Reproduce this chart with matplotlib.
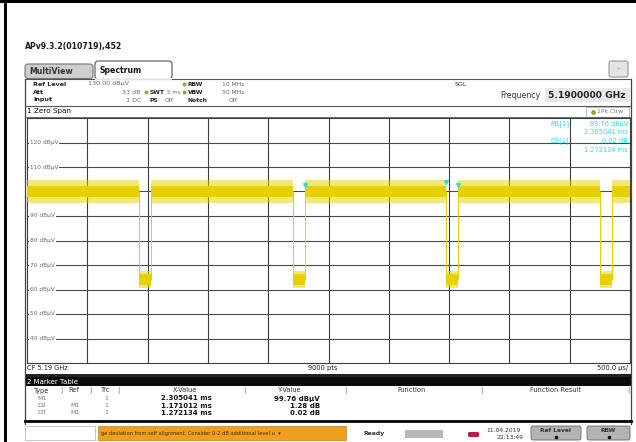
import matplotlib
matplotlib.use("Agg")
import matplotlib.pyplot as plt
from matplotlib.patches import Rectangle, FancyBboxPatch
from matplotlib.transforms import offset_copy

# sweep / display settings
sweep_ms = 5.0
ref_level = 130
bottom_level = 30
level_labels = [120, 110, 100, 90, 80, 70, 60, 50, 40]

# burst gaps in ms (carrier off between start and end)
gap_start = [0.930, 2.204, 3.476, 4.748]
gap_end = [1.032, 2.305, 3.577, 4.852]
carrier_level = 100.0
carrier_spread = [2.2, 4.5]   # dense band, peak band (dB)
floor_level = 64.0
floor_spread = [2.2, 3.5]

# marker table
marker_type = ["M1", "D2", "D3"]
marker_ref = ["", "M1", "M1"]
marker_trc = ["1", "1", "1"]
marker_x = [2.305041, 1.171012, 1.272134]   # ms, deltas relative to M1
marker_y = [99.76, 1.28, 0.02]
marker_unit = ["dBµV", "dB", "dB"]

YELLOW = "#e6d000"
CYAN = "#22e0f0"
GRID = "#3c3c3c"
LABEL = "#6a6a6a"

W, H = 636, 442
fig = plt.figure(figsize=(W / 100, H / 100), dpi=100)
bg = fig.add_axes([0, 0, 1, 1])
bg.set_xlim(0, W)
bg.set_ylim(H, 0)
bg.axis("off")
bg.set_zorder(2)


def txt(x, y, s, size=4.6, color="#222222", weight="normal", ha="left", **kw):
    bg.text(x, y, s, fontsize=size, color=color, fontweight=weight, ha=ha,
            va="center", **kw)


def box(x, y, w, h, fc, ec="none", lw=0.8, round_=0, z=1):
    if round_:
        p = FancyBboxPatch((x, y), w, h, boxstyle=f"round,pad=0,rounding_size={round_}",
                           fc=fc, ec=ec, lw=lw, zorder=z)
    else:
        p = Rectangle((x, y), w, h, fc=fc, ec=ec, lw=lw, zorder=z)
    bg.add_patch(p)


# outer frame
box(0, 0, W, 3.3, "black", z=5)
box(3.5, 0, 3, H, "black", z=5)

txt(25, 46, "APv9.3.2(010719),452", size=5.6, weight="bold", color="#1a1a1a")

# tabs
bg.plot([25, 630], [78.5, 78.5], color="#555555", lw=0.8)
box(25, 64, 68, 14.5, "#cfcfcf", ec="#777777", round_=3)
txt(29, 71.5, "MultiView", size=5.6, weight="bold", color="#333333")
box(95, 61, 77, 18, "white", ec="#555555", round_=3, z=2)
bg.plot([96, 171], [78.5, 78.5], color="white", lw=1.2, zorder=3)
txt(100, 70.5, "Spectrum", size=5.6, weight="bold", color="#111111", zorder=4)
box(609, 61, 19, 16, "#e4e4e4", ec="#999999", round_=2)
txt(618.5, 69, "»", size=4, color="#888888", ha="center")

# window frame
bg.plot([25, 25], [78.5, 424], color="#444444", lw=0.9)
bg.plot([630.5, 630.5], [78.5, 424], color="#444444", lw=0.9)

# settings block
txt(33, 84, "Ref Level", weight="bold")
txt(88, 84, "130.00 dBµV", color=LABEL)
txt(33, 92, "Att", weight="bold")
txt(141, 92, "33 dB", color=LABEL, ha="right")
txt(33, 100, "Input", weight="bold")
txt(141, 100, "1 DC", color=LABEL, ha="right")
for yy in (84, 92):
    bg.plot(184, yy, "o", ms=1.8, color="#9aa040")
bg.plot(146, 92, "o", ms=1.8, color="#9aa040")
txt(150, 92, "SWT", size=4.3, weight="bold")
txt(167, 92, "5 ms", size=4.1, color=LABEL)
txt(150, 100, "PS", size=4.3, weight="bold")
txt(165, 100, "Off", size=4.3, color=LABEL)
txt(188, 84, "RBW", size=4.3, weight="bold")
txt(222, 84, "10 MHz", size=4.3, color=LABEL)
txt(188, 92, "VBW", size=4.3, weight="bold")
txt(222, 92, "50 MHz", size=4.3, color=LABEL)
txt(188, 100, "Notch", size=4.3, weight="bold")
txt(229, 100, "Off", size=4.3, color=LABEL)
txt(455, 84, "SGL", size=4.6, color="#333333")
txt(500, 95, "Frequency", size=5.6, color="#333333")
box(545, 88, 85, 14, "#e9e9e9")
txt(548, 95, "5.1900000 GHz", size=6.6, weight="bold", color="#222222")

# diagram header
bg.plot([25, 630], [105.5, 105.5], color="#555555", lw=0.8)
txt(27, 111, "1 Zero Span", size=5.2, color="#111111")
bg.plot([25, 630], [116.5, 116.5], color="#555555", lw=0.6)
box(586, 106.5, 43, 10, "white", ec="#aaaaaa", lw=0.5)
bg.plot(593, 111.5, "o", ms=2.6, color="#b8b000", mec="#555500", mew=0.4)
txt(597, 111.5, "1Pk Clrw", size=4.3, color="#777777")

# diagram
x0, y0, x1, y1 = 27, 118, 630, 363
ax = fig.add_axes([x0 / W, 1 - y1 / H, (x1 - x0) / W, (y1 - y0) / H])
ax.set_zorder(1)
ax.set_xlim(0, sweep_ms)
ax.set_ylim(bottom_level, ref_level)
ax.set_xticks([])
ax.set_yticks([])
for s in ax.spines.values():
    s.set_color(GRID)
    s.set_linewidth(0.8)
for i in range(1, 10):
    ax.axvline(sweep_ms * i / 10, color=GRID, lw=0.8, zorder=1)
for lv in range(bottom_level + 10, ref_level, 10):
    ax.axhline(lv, color="#4a4a4a", lw=0.8, zorder=1)
for lv in level_labels:
    ax.text(0.025, lv, f"{lv} dBµV", fontsize=4.2, color=LABEL, va="center",
            zorder=2, bbox=dict(fc="white", ec="none", pad=0.6))

# trace: carrier bursts between the gaps, noise floor inside the gaps
starts = [0.0] + gap_end
ends = gap_start + [sweep_ms]
for a, b in zip(starts, ends):
    ax.fill_between([a, b], carrier_level - carrier_spread[1],
                    carrier_level + carrier_spread[1], color=YELLOW, alpha=0.5,
                    lw=0, zorder=3)
    ax.fill_between([a, b], carrier_level - carrier_spread[0],
                    carrier_level + carrier_spread[0], color=YELLOW, lw=0, zorder=4)
for a, b in zip(gap_start, gap_end):
    ax.fill_between([a, b], floor_level - floor_spread[1],
                    floor_level + floor_spread[1], color=YELLOW, alpha=0.5,
                    lw=0, zorder=3)
    ax.fill_between([a, b], floor_level - floor_spread[0],
                    floor_level + floor_spread[0], color=YELLOW, lw=0, zorder=4)
    ax.vlines([a, b], floor_level, carrier_level, color=YELLOW, lw=0.7, zorder=4)

# markers on the trace
m1_t = marker_x[0]
pos_t = [m1_t, m1_t + marker_x[1], m1_t + marker_x[2]]
pos_y = [marker_y[0], marker_y[0] + marker_y[1], marker_y[0] + marker_y[2]]
up = offset_copy(ax.transData, fig=fig, x=0, y=5, units="points")
ax.plot(pos_t, pos_y, "v", ms=2.8, color=CYAN, transform=up, zorder=6, ls="none")

# marker info in the diagram corner
info = [("M1[1]", f"{marker_y[0]:.2f} dBµV"), ("", f"{marker_x[0]:.6f} ms"),
        ("D3[1]", f"{marker_y[2]:.2f} dB"), ("", f"{marker_x[2]:.6f} ms")]
for i, (name, val) in enumerate(info):
    yy = 124 + i * 8.5
    if name:
        txt(550, yy, name, size=4.8, color=CYAN, zorder=6)
    txt(628, yy, val, size=4.8, color=CYAN, ha="right", zorder=6)

# diagram footer
txt(27, 368, "CF 5.19 GHz", size=4.8, color="#222222")
txt(323, 368, "9000 pts", size=4.8, color="#222222", ha="center")
txt(628, 368, "500.0 µs/", size=4.8, color="#222222", ha="right")

# marker table
box(25, 373.5, 606, 4, "#222222")
box(25, 377, 606, 9, "#0a0a0a")
txt(27, 381.5, "2 Marker Table", size=5, color="white")
bg.plot([25, 631], [420.5, 420.5], color="black", lw=2)
heads = [(42, "Type"), (74, "Ref"), (106, "Trc"), (185, "X-Value"),
         (290, "Y-Value"), (412, "Function"), (555, "Function Result")]
for xx, h in heads:
    txt(xx, 390.5, h, size=4.8, color="#333333", ha="center")
for xx in (61, 90, 118, 244, 345, 481, 628):
    txt(xx, 390.5, "|", size=4.8, color="#555555", ha="center")
for i in range(3):
    yy = 398.5 + i * 7.2
    txt(37, yy, marker_type[i], size=4.5, color="#777777")
    txt(70, yy, marker_ref[i], size=4.5, color="#777777")
    txt(106, yy, marker_trc[i], size=4.5, color="#777777", ha="center")
    txt(212, yy, f"{marker_x[i]:.6f} ms", size=5.0, weight="bold", color="#111111",
        ha="right")
    txt(320, yy, f"{marker_y[i]:.2f} {marker_unit[i]}", size=5.0, weight="bold",
        color="#111111", ha="right")

# status bar
box(25, 426, 70, 14, "white", ec="#bbbbbb", lw=0.6)
box(98, 426, 248, 14, "#f0a020", ec="#c08020", lw=0.5)
txt(101, 433, "ge deviation from self alignment. Consider 0-2 dB additional level u  \u25be",
    size=3.7, color="#3a2a00")
txt(363, 434, "Ready", size=4.4, weight="bold", color="#333333")
box(405, 430, 38, 8, "#b8b8b8")
box(468, 432, 11, 5, "#c01848", round_=1.5)
txt(486, 430, "11.04.2019", size=4.3, color="#333333")
txt(523, 437.5, "22:13:49", size=4.3, color="#333333", ha="right")
for bx, bw, lab in ((531, 50, "Ref Level"), (587, 43, "RBW")):
    box(bx, 426, bw, 14, "#b4b4b4", ec="#666666", lw=0.6, round_=2)
    txt(bx + bw / 2, 430.5, lab, size=4.3, weight="bold", color="#333333", ha="center")
    bg.plot(bx + bw / 2, 437, "o", ms=1.6, color="#111111")

fig.savefig("out.png", dpi=100)
